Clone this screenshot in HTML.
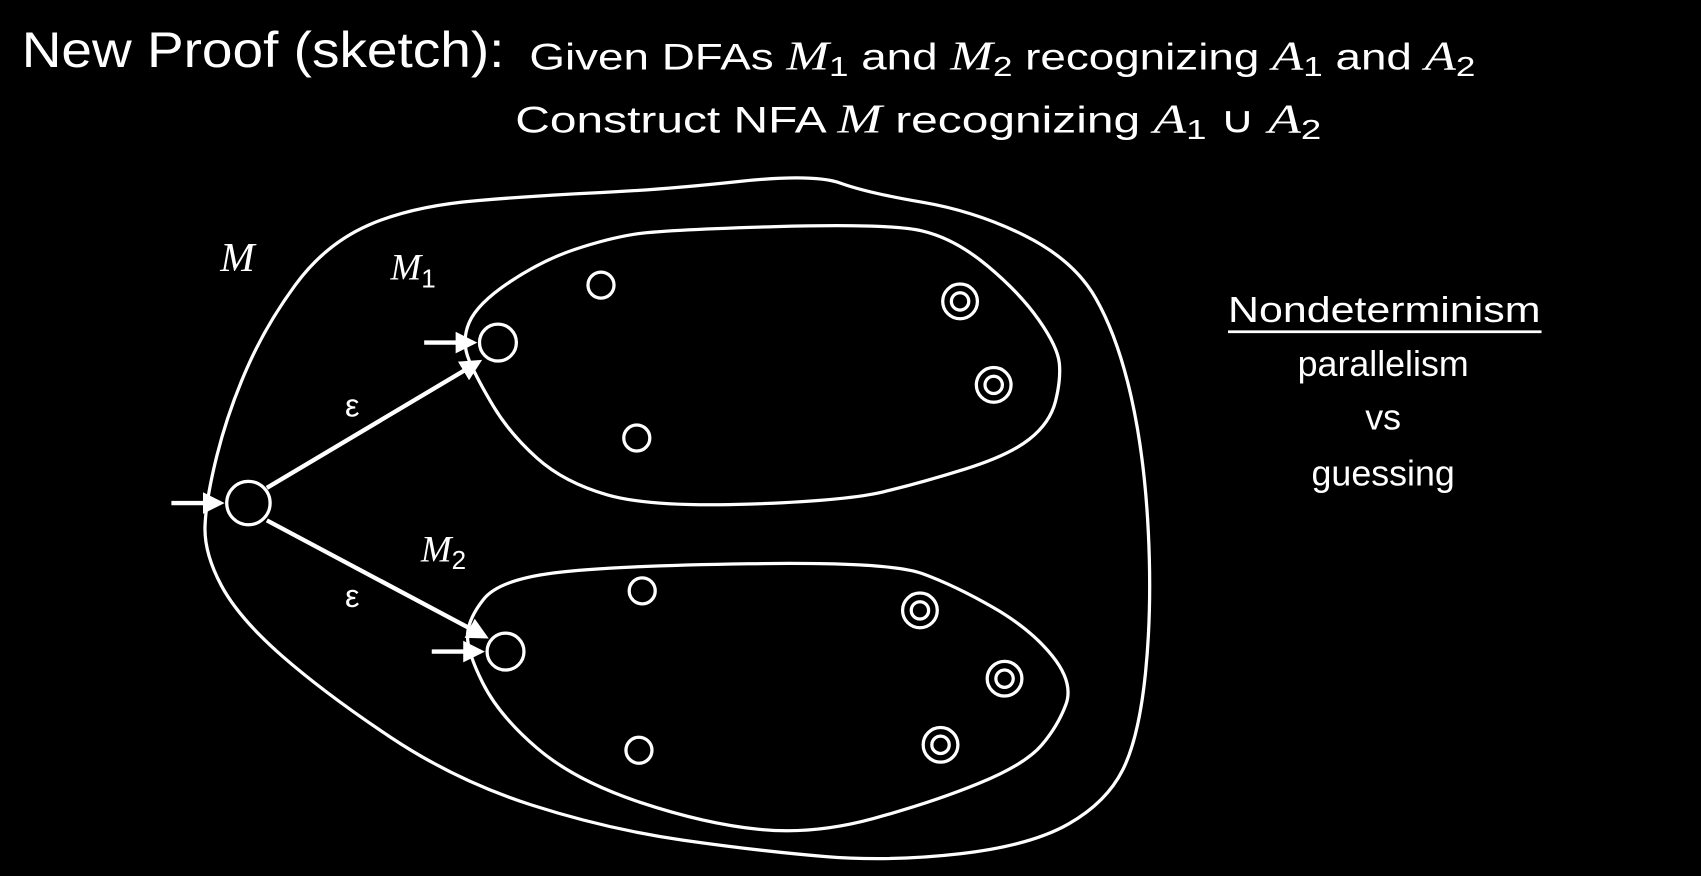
<!DOCTYPE html>
<html><head><meta charset="utf-8"><style>
html,body{margin:0;padding:0;background:#000;}
svg{display:block;}
text{fill:#fff;font-family:"Liberation Sans",sans-serif;}
.m{font-family:"Liberation Serif",serif;font-style:italic;}
</style></head><body>
<svg width="1701" height="876" viewBox="0 0 1568 808" preserveAspectRatio="none" xmlns="http://www.w3.org/2000/svg">
<rect width="1568" height="808" fill="#000"/>
<g>
<text x="20" y="62" font-size="46" textLength="445" lengthAdjust="spacingAndGlyphs">New Proof (sketch):</text>
<text x="488" y="64" font-size="34" textLength="872" lengthAdjust="spacingAndGlyphs">Given DFAs  <tspan class="m" font-size="38">M</tspan><tspan font-size="26" dy="6">1</tspan><tspan dy="-6"> and </tspan><tspan class="m" font-size="38">M</tspan><tspan font-size="26" dy="6">2</tspan><tspan dy="-6"> recognizing </tspan><tspan class="m" font-size="38">A</tspan><tspan font-size="26" dy="6">1</tspan><tspan dy="-6"> and </tspan><tspan class="m" font-size="38">A</tspan><tspan font-size="26" dy="6">2</tspan></text>
<text x="475" y="122" font-size="34" textLength="743" lengthAdjust="spacingAndGlyphs">Construct NFA  <tspan class="m" font-size="38">M</tspan><tspan>   recognizing   </tspan><tspan class="m" font-size="38">A</tspan><tspan font-size="26" dy="6">1</tspan><tspan dy="-6"> ∪ </tspan><tspan class="m" font-size="38">A</tspan><tspan font-size="26" dy="6">2</tspan></text>
</g>
<g fill="none" stroke="#fff" stroke-width="3" stroke-linejoin="round">
<path d="M680,167.5 Q750,160 775,169 Q800,178 850,186.5 Q900,195 945,217.5 Q990,240 1010,275 Q1030,310 1042.5,365 Q1055,420 1058.5,490 Q1062,560 1056,620 Q1050,680 1035,710 Q1020,740 985,760 Q950,780 885,787.5 Q820,795 760,790 Q700,785 630,775 Q560,765 490,742.5 Q420,720 360,680 Q300,640 260,605 Q220,570 204,540 Q188,510 189,485 Q190,460 200,420 Q210,380 227.5,340 Q245,300 272.5,262.5 Q300,225 340,207.5 Q380,190 440,185 Q500,180 555,177.5 Q610,175 680,167.5Z"/>
<path d="M715,209 Q820,206 850,213 Q880,220 910,245 Q940,270 957.5,295 Q975,320 976.5,335 Q978,350 973,370 Q968,390 949,405 Q930,420 890,432.5 Q850,445 815,453.5 Q780,462 690,465 Q600,468 560,456.5 Q520,445 495,422.5 Q470,400 455,375 Q440,350 432.5,332.5 Q425,315 432.5,297.5 Q440,280 470,260 Q500,240 530,230 Q560,220 585,216 Q610,212 715,209Z"/>
<path d="M690,520 Q820,518 850,529 Q880,540 915,560 Q950,580 970,605 Q990,630 982.5,650 Q975,670 960,687.5 Q945,705 902.5,722.5 Q860,740 805,755 Q750,770 700,765 Q650,760 590,740 Q530,720 495,690 Q460,660 445,630 Q430,600 431,585 Q432,570 446,552.5 Q460,535 510,528.5 Q560,522 690,520Z"/>
</g>
<g fill="none" stroke="#fff" stroke-width="3">
<circle cx="229" cy="464" r="20"/>
<circle cx="459" cy="316" r="17"/>
<circle cx="466" cy="601" r="17"/>
<circle cx="554" cy="263" r="12"/>
<circle cx="587" cy="404" r="12"/>
<circle cx="592" cy="545" r="12"/>
<circle cx="589" cy="692" r="12"/>
<g>
<circle cx="885" cy="278" r="16"/><circle cx="885" cy="278" r="8"/>
<circle cx="916" cy="355" r="16"/><circle cx="916" cy="355" r="8"/>
<circle cx="848" cy="563" r="16"/><circle cx="848" cy="563" r="8"/>
<circle cx="926" cy="626" r="16"/><circle cx="926" cy="626" r="8"/>
<circle cx="867" cy="687" r="16"/><circle cx="867" cy="687" r="8"/>
</g>
</g>
<defs><marker id="ah" markerWidth="5" markerHeight="5" refX="4" refY="2.5" orient="auto" markerUnits="strokeWidth"><path d="M0,0 L5,2.5 L0,5 Z" fill="#fff"/></marker></defs>
<g stroke="#fff" stroke-width="4" marker-end="url(#ah)">
<line x1="158" y1="464" x2="203" y2="464"/>
<line x1="391" y1="316" x2="436" y2="316"/>
<line x1="398" y1="601" x2="443" y2="601"/>
<line x1="246" y1="450" x2="441" y2="334"/>
<line x1="246" y1="480" x2="447" y2="587"/>
</g>
<text x="318" y="384" font-size="30">ε</text>
<text x="318" y="560" font-size="30">ε</text>
<text class="m" x="203" y="250" font-size="38">M</text>
<text x="360" y="258"><tspan class="m" font-size="34">M</tspan><tspan font-size="24" dy="7">1</tspan></text>
<text x="388" y="518"><tspan class="m" font-size="34">M</tspan><tspan font-size="24" dy="7">2</tspan></text>
<g text-anchor="middle" font-size="33">
<text x="1276" y="297" textLength="288" lengthAdjust="spacingAndGlyphs">Nondeterminism</text>
<line x1="1132" y1="306" x2="1421" y2="306" stroke="#fff" stroke-width="2.5"/>
<text x="1275" y="347">parallelism</text>
<text x="1275" y="396">vs</text>
<text x="1275" y="448">guessing</text>
</g>
</svg>
</body></html>
